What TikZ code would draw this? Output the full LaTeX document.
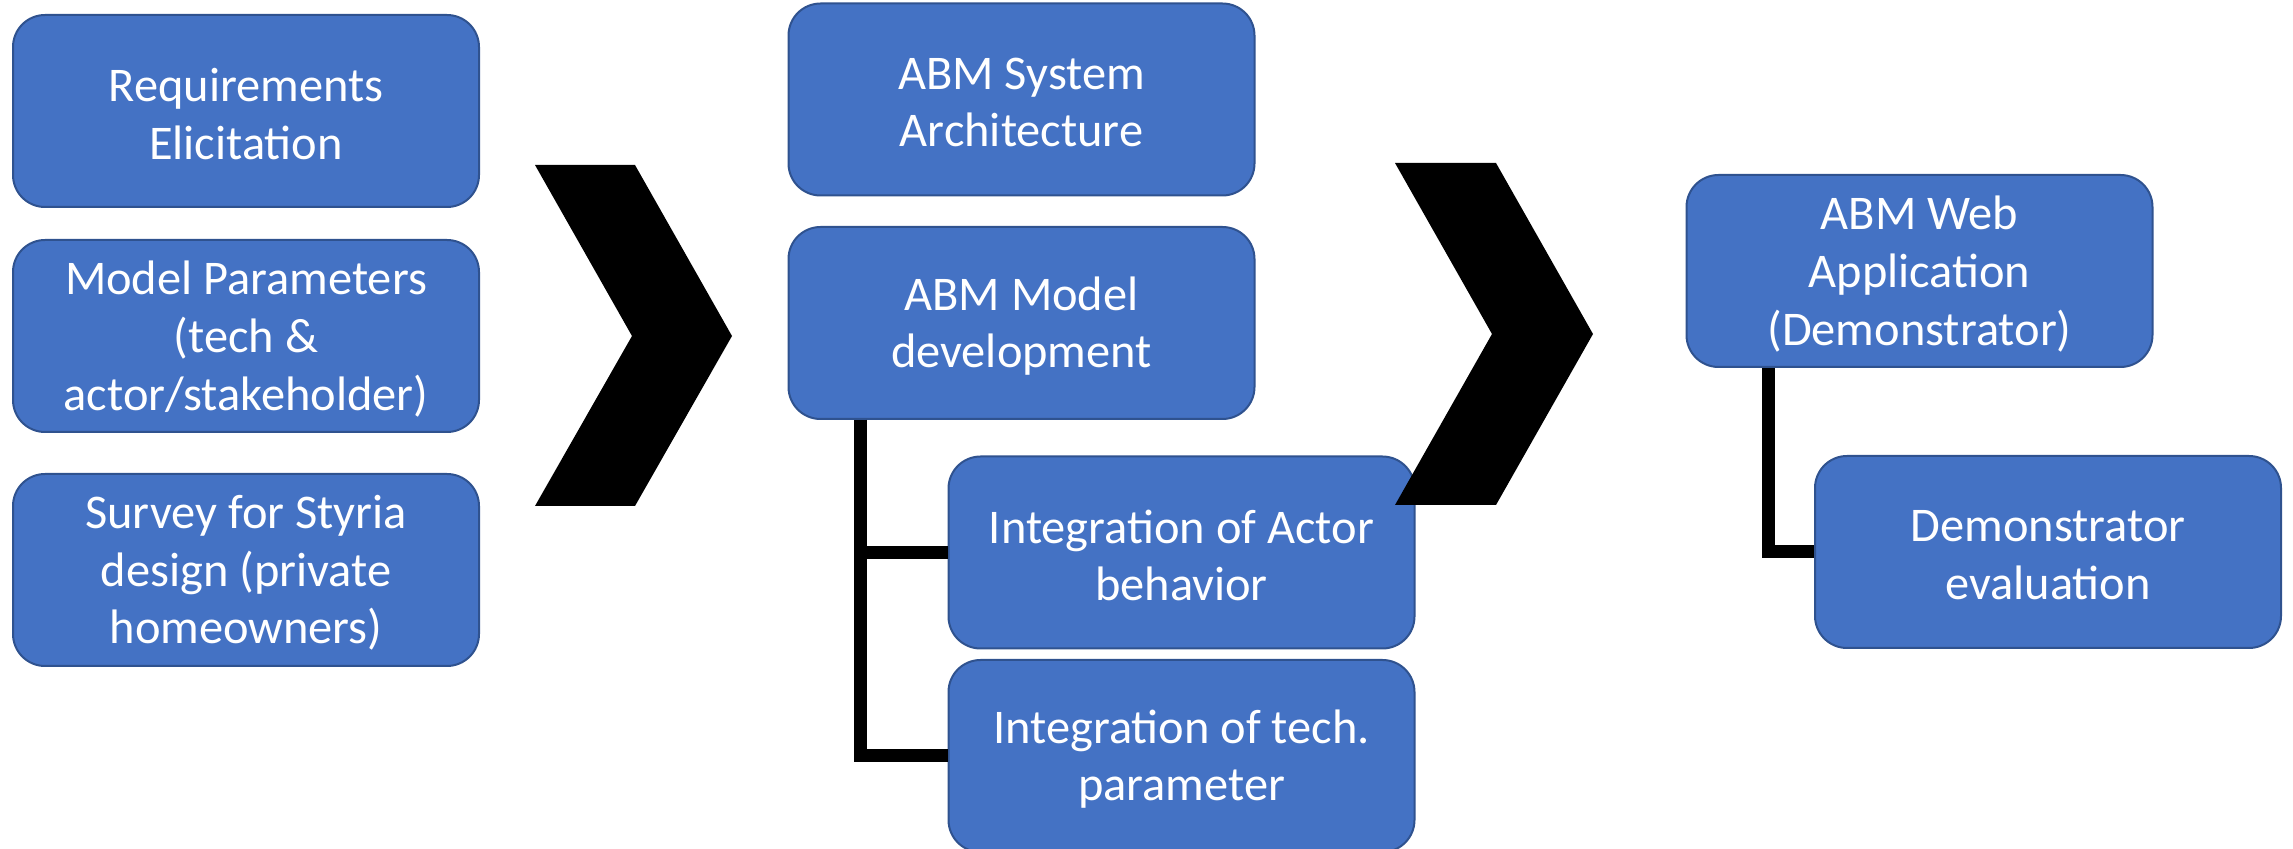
\documentclass[tikz,border=0pt]{standalone}
\usepackage{fontspec}
\setmainfont{Carlito}
\definecolor{boxblue}{HTML}{4472C4}
\definecolor{boxedge}{HTML}{2F528F}
\tikzset{
  box/.style={draw=boxedge, fill=boxblue, line width=1pt, rounded corners=16pt,
    minimum width=233pt, minimum height=96pt, inner sep=0pt},
  lbl/.style={align=center, text=white, inner sep=0pt, yshift=-1.5pt,
    font=\fontsize{24.2pt}{28.8pt}\selectfont},
  conn/.style={draw=black, line width=6.5pt},
  chev/.style={fill=black}
}
\begin{document}
\begin{tikzpicture}[x=0.5pt, y=-0.5pt]
\useasboundingbox (0,0) rectangle (2293,849);
% column 1
\node[box, label={[lbl]center:{Requirements\\Elicitation}}] (B1) at (246,111) {};
\node[box, label={[lbl]center:{Model Parameters\\(tech \&\\actor/stakeholder)}}] (B2) at (246,336) {};
\node[box, label={[lbl]center:{Survey for Styria\\design (private\\homeowners)}}] (B3) at (246,570) {};
% column 2
\node[box, label={[lbl]center:{ABM System\\Architecture}}] (A1) at (1021.5,99.5) {};
\node[box, label={[lbl]center:{ABM Model\\development}}] (A2) at (1021.5,323) {};
\node[box, label={[lbl]center:{Integration of Actor\\behavior}}] (A3) at (1181.5,552.5) {};
\node[box, label={[lbl]center:{Integration of tech.\\parameter}}] (A4) at (1181.5,756) {};
% column 3
\node[box, label={[lbl]center:{ABM Web\\Application\\(Demonstrator)}}] (W1) at (1919.5,271) {};
\node[box, label={[lbl]center:{Demonstrator\\evaluation}}] (W2) at (2048,552) {};
% connectors
\draw[conn] ([xshift=36.5pt]A2.south west) |- (A3.west);
\draw[conn] ([xshift=36.5pt]A2.south west) |- (A4.west);
\draw[conn] ([xshift=41.5pt]W1.south west) |- (W2.west);
% chevrons
\fill[chev] (535,165) -- (635,165) -- (732,336) -- (635,506) -- (535,506) -- (632,336) -- cycle;
\fill[chev] (1395,163) -- (1496,163) -- (1593,334) -- (1496,505) -- (1395,505) -- (1492,334) -- cycle;
\end{tikzpicture}
\end{document}
